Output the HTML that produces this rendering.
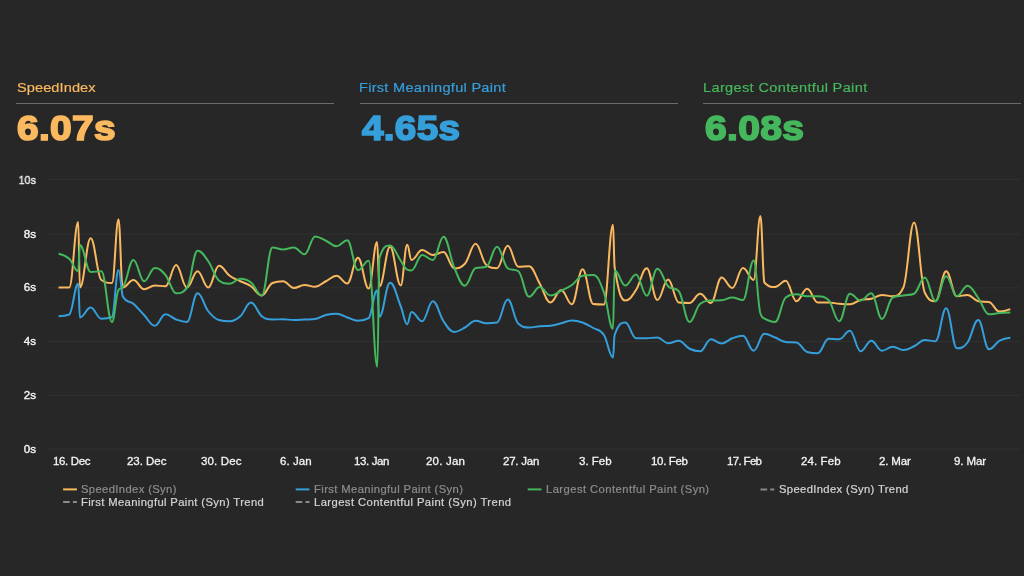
<!DOCTYPE html>
<html><head><meta charset="utf-8"><title>Chart</title>
<style>
html,body{margin:0;padding:0;}
body{width:1024px;height:576px;background:#272727;overflow:hidden;position:relative;font-family:"Liberation Sans",sans-serif;}
.t{position:absolute;white-space:nowrap;line-height:1;will-change:transform;transform-origin:0 0;}
.h{font-size:13.5px;top:80.7px;transform:scaleX(1.08);}
.v{font-size:35px;font-weight:bold;top:110.4px;}
.rule{position:absolute;height:1px;background:#6b6b6b;top:103px;width:318px;}
.yl{font-size:11px;color:#f4f4f4;text-align:right;width:40px;left:-4.1px;-webkit-text-stroke:0.35px #f4f4f4;transform-origin:100% 0;transform:scaleX(1.06);}
.xl{top:455.5px;font-size:11.5px;color:#f4f4f4;-webkit-text-stroke:0.3px #f4f4f4;}
.lg{font-size:10.5px;transform:scaleX(1.07);}
.l1{color:#8c8c8c;-webkit-text-stroke:0.2px #8c8c8c;}
.l2{color:#d4d4d4;-webkit-text-stroke:0.2px #d4d4d4;}
svg{position:absolute;left:0;top:0;}
</style></head><body>
<div class="t h" id="h1" style="left:16.9px;color:#fbb95f;-webkit-text-stroke:0.2px #fbb95f;letter-spacing:0.074px;">SpeedIndex</div>
<div class="rule" style="left:16px;"></div>
<div class="t h" id="h2" style="left:359.1px;color:#359fdb;-webkit-text-stroke:0.2px #359fdb;letter-spacing:0.251px;">First Meaningful Paint</div>
<div class="rule" style="left:360px;"></div>
<div class="t h" id="h3" style="left:703.0px;color:#45b75c;-webkit-text-stroke:0.2px #45b75c;letter-spacing:0.312px;">Largest Contentful Paint</div>
<div class="rule" style="left:703px;"></div>
<div class="t v" id="v1" style="left:16.9px;color:#fbb95f;letter-spacing:0.3px;transform-origin:0 0;transform:scaleX(1.1105);-webkit-text-stroke:1.7px #fbb95f;">6.07s</div>
<div class="t v" id="v2" style="left:361.8px;color:#359fdb;letter-spacing:0.3px;transform-origin:0 0;transform:scaleX(1.1033);-webkit-text-stroke:1.7px #359fdb;">4.65s</div>
<div class="t v" id="v3" style="left:704.98px;color:#45b75c;letter-spacing:0.3px;transform-origin:0 0;transform:scaleX(1.1157);-webkit-text-stroke:1.7px #45b75c;">6.08s</div>
<div class="t yl" id="y0" style="top:174.6px;transform:scaleX(0.98);">10s</div>
<div class="t yl" id="y1" style="top:228.5px;">8s</div>
<div class="t yl" id="y2" style="top:282.4px;">6s</div>
<div class="t yl" id="y3" style="top:336.3px;">4s</div>
<div class="t yl" id="y4" style="top:390.2px;">2s</div>
<div class="t yl" id="y5" style="top:444.1px;">0s</div>
<div class="t xl" id="x0" style="left:52.79px;letter-spacing:-0.37px;">16. Dec</div>
<div class="t xl" id="x1" style="left:126.61px;letter-spacing:-0.037px;">23. Dec</div>
<div class="t xl" id="x2" style="left:201.01px;letter-spacing:0.13px;">30. Dec</div>
<div class="t xl" id="x3" style="left:280.15px;letter-spacing:0.05px;">6. Jan</div>
<div class="t xl" id="x4" style="left:353.69px;letter-spacing:-0.376px;">13. Jan</div>
<div class="t xl" id="x5" style="left:426.26px;letter-spacing:0.208px;">20. Jan</div>
<div class="t xl" id="x6" style="left:502.92px;letter-spacing:-0.229px;">27. Jan</div>
<div class="t xl" id="x7" style="left:578.99px;letter-spacing:0.006px;">3. Feb</div>
<div class="t xl" id="x8" style="left:651.39px;letter-spacing:-0.332px;">10. Feb</div>
<div class="t xl" id="x9" style="left:727.29px;letter-spacing:-0.665px;">17. Feb</div>
<div class="t xl" id="x10" style="left:800.64px;letter-spacing:0.108px;">24. Feb</div>
<div class="t xl" id="x11" style="left:879.23px;letter-spacing:-0.174px;">2. Mar</div>
<div class="t xl" id="x12" style="left:953.68px;letter-spacing:-0.121px;">9. Mar</div>
<div class="t lg l1" id="g1" style="left:81.32px;top:484px;letter-spacing:0.343px;">SpeedIndex (Syn)</div>
<div class="t lg l1" id="g2" style="left:313.76px;top:484px;letter-spacing:0.359px;">First Meaningful Paint (Syn)</div>
<div class="t lg l1" id="g3" style="left:546.0px;top:484px;letter-spacing:0.406px;">Largest Contentful Paint (Syn)</div>
<div class="t lg l2" id="g4" style="left:779.26px;top:484px;letter-spacing:0.335px;">SpeedIndex (Syn) Trend</div>
<div class="t lg l2" id="g5" style="left:81.32px;top:496.7px;letter-spacing:0.348px;">First Meaningful Paint (Syn) Trend</div>
<div class="t lg l2" id="g6" style="left:313.76px;top:496.7px;letter-spacing:0.394px;">Largest Contentful Paint (Syn) Trend</div>
<svg width="1024" height="576" viewBox="0 0 1024 576">
<g stroke="#323232" stroke-width="1">
<line x1="48" y1="179.3" x2="1020" y2="179.3"/>
<line x1="48" y1="234.1" x2="1020" y2="234.1"/>
<line x1="48" y1="287.9" x2="1020" y2="287.9"/>
<line x1="48" y1="341.6" x2="1020" y2="341.6"/>
<line x1="48" y1="395.3" x2="1020" y2="395.3"/>
<line x1="48" y1="449.1" x2="1020" y2="449.1"/>
</g>
<g fill="none" stroke-width="2" stroke-linecap="butt" stroke-linejoin="round">
<path stroke="#fbb95f" d="M 58.55 287.50 C 58.55 287.50 64.97 287.50 69.24 287.50 C 72.83 287.50 74.62 222.00 78.20 222.00 C 78.90 222.00 79.24 287.50 79.94 287.50 C 84.22 287.50 86.35 238.25 90.63 238.25 C 94.91 238.25 97.05 277.00 101.33 280.00 C 105.60 283.00 107.74 283.00 112.02 283.00 C 114.61 283.00 115.91 219.25 118.50 219.25 C 120.19 219.25 121.03 287.50 122.71 287.50 C 126.99 287.50 129.13 280.00 133.41 280.00 C 137.69 280.00 139.82 289.25 144.10 289.25 C 148.38 289.25 150.52 285.50 154.80 285.50 C 159.07 285.50 161.21 286.25 165.49 286.25 C 169.77 286.25 171.91 265.00 176.18 265.00 C 180.46 265.00 182.60 287.50 186.88 287.50 C 191.16 287.50 193.29 271.25 197.57 271.25 C 201.85 271.25 203.99 287.50 208.27 287.50 C 212.54 287.50 214.68 265.75 218.96 265.75 C 223.24 265.75 225.38 272.65 229.65 275.75 C 233.93 278.85 236.07 279.15 240.35 281.25 C 244.63 283.35 246.76 283.40 251.04 286.25 C 255.32 289.10 257.46 295.50 261.74 295.50 C 266.01 295.50 268.15 284.75 272.43 283.00 C 276.71 281.25 278.85 281.25 283.12 281.25 C 287.40 281.25 289.54 288.00 293.82 288.00 C 298.10 288.00 300.23 285.00 304.51 285.00 C 308.79 285.00 310.93 286.75 315.21 286.75 C 319.48 286.75 321.62 283.45 325.90 281.25 C 330.18 279.05 332.32 275.75 336.59 275.75 C 340.87 275.75 343.01 283.50 347.29 283.50 C 351.57 283.50 353.70 257.70 357.98 257.70 C 362.26 257.70 364.40 288.50 368.68 288.50 C 372.05 288.50 373.73 242.00 377.10 242.00 C 378.01 242.00 378.46 286.40 379.37 286.40 C 383.65 286.40 385.79 246.80 390.06 246.80 C 394.34 246.80 396.48 285.40 400.76 285.40 C 403.33 285.40 404.62 244.75 407.20 244.75 C 408.90 244.75 409.75 260.00 411.45 260.00 C 415.73 260.00 417.87 250.00 422.15 250.00 C 426.42 250.00 428.56 255.00 432.84 255.00 C 437.12 255.00 439.26 252.00 443.53 252.00 C 447.81 252.00 449.95 268.25 454.23 268.25 C 458.51 268.25 460.64 268.25 464.92 263.75 C 469.20 259.25 471.34 243.75 475.62 243.75 C 479.89 243.75 482.03 261.75 486.31 265.00 C 490.59 268.25 492.73 268.25 497.00 268.25 C 501.28 268.25 503.42 245.75 507.70 245.75 C 511.98 245.75 514.11 266.75 518.39 266.75 C 522.67 266.75 524.81 266.25 529.09 266.25 C 533.36 266.25 535.50 276.50 539.78 283.75 C 544.06 291.00 546.20 302.50 550.47 302.50 C 554.75 302.50 556.89 290.00 561.17 290.00 C 565.45 290.00 567.58 304.25 571.86 304.25 C 576.14 304.25 578.28 269.25 582.56 269.25 C 586.83 269.25 588.97 303.50 593.25 304.00 C 597.53 304.50 599.67 304.50 603.94 304.50 C 607.57 304.50 609.38 224.75 613.00 224.75 C 613.66 224.75 613.98 263.48 614.64 267.50 C 618.92 293.78 621.05 300.50 625.33 300.50 C 629.61 300.50 631.75 296.45 636.03 290.00 C 640.30 283.55 642.44 268.25 646.72 268.25 C 651.00 268.25 653.14 300.00 657.41 300.00 C 661.69 300.00 663.83 279.50 668.11 279.50 C 672.39 279.50 674.52 302.00 678.80 302.50 C 683.08 303.00 685.22 303.00 689.50 303.00 C 693.77 303.00 695.91 293.75 700.19 293.75 C 704.47 293.75 706.61 303.00 710.88 303.00 C 715.16 303.00 717.30 277.50 721.58 277.50 C 725.86 277.50 727.99 288.00 732.27 288.00 C 736.55 288.00 738.69 268.10 742.97 268.10 C 747.24 268.10 749.38 280.00 753.66 280.00 C 756.36 280.00 757.70 216.00 760.40 216.00 C 761.98 216.00 762.77 278.00 764.35 282.50 C 768.63 287.00 770.77 287.00 775.05 287.00 C 779.33 287.00 781.46 280.75 785.74 280.75 C 790.02 280.75 792.16 301.25 796.44 301.25 C 800.71 301.25 802.85 288.75 807.13 288.75 C 811.41 288.75 813.55 302.50 817.82 302.50 C 822.10 302.50 824.24 302.50 828.52 302.50 C 832.80 302.50 834.93 303.40 839.21 303.75 C 843.49 304.10 845.63 304.25 849.91 304.25 C 854.18 304.25 856.32 301.10 860.60 300.00 C 864.88 298.90 867.02 299.75 871.29 298.75 C 875.57 297.75 877.71 295.00 881.99 295.00 C 886.27 295.00 888.40 296.25 892.68 296.25 C 896.96 296.25 899.10 296.25 903.38 287.50 C 907.65 278.75 909.79 222.50 914.07 222.50 C 918.35 222.50 920.49 283.75 924.76 292.50 C 929.04 301.25 931.18 301.25 935.46 301.25 C 939.74 301.25 941.87 271.25 946.15 271.25 C 950.43 271.25 952.57 296.25 956.85 296.25 C 961.12 296.25 963.26 295.00 967.54 295.00 C 971.82 295.00 973.96 300.50 978.23 301.25 C 982.51 302.00 984.65 301.25 988.93 302.00 C 993.21 302.75 995.34 311.60 999.62 311.60 C 1003.90 311.60 1010.32 309.10 1010.32 309.10"/>
<path stroke="#359fdb" d="M 58.55 316.25 C 58.55 316.25 64.97 316.25 69.24 314.50 C 72.83 312.75 74.62 283.75 78.20 283.75 C 78.90 283.75 79.24 317.50 79.94 317.50 C 84.22 317.50 86.35 307.50 90.63 307.50 C 94.91 307.50 97.05 318.75 101.33 318.75 C 105.60 318.75 107.74 318.75 112.02 317.00 C 114.61 315.25 115.91 270.00 118.50 270.00 C 120.19 270.00 121.03 288.75 122.71 296.25 C 126.99 303.75 129.13 300.00 133.41 303.75 C 137.69 307.50 139.82 310.60 144.10 315.00 C 148.38 319.40 150.52 325.75 154.80 325.75 C 159.07 325.75 161.21 314.25 165.49 314.25 C 169.77 314.25 171.91 317.95 176.18 319.50 C 180.46 321.05 182.60 322.00 186.88 322.00 C 191.16 322.00 193.29 293.25 197.57 293.25 C 201.85 293.25 203.99 305.90 208.27 311.25 C 212.54 316.60 214.68 318.75 218.96 320.00 C 223.24 321.25 225.38 321.25 229.65 321.25 C 233.93 321.25 236.07 320.00 240.35 316.25 C 244.63 312.50 246.76 302.50 251.04 302.50 C 255.32 302.50 257.46 313.00 261.74 316.25 C 266.01 319.50 268.15 319.50 272.43 319.50 C 276.71 319.50 278.85 319.25 283.12 319.25 C 287.40 319.25 289.54 320.00 293.82 320.00 C 298.10 320.00 300.23 319.70 304.51 319.50 C 308.79 319.30 310.93 319.50 315.21 319.00 C 319.48 318.50 321.62 316.05 325.90 315.00 C 330.18 313.95 332.32 313.75 336.59 313.75 C 340.87 313.75 343.01 316.11 347.29 317.50 C 351.57 318.89 353.70 320.70 357.98 320.70 C 362.26 320.70 364.40 320.70 368.68 318.20 C 372.05 315.70 373.73 290.20 377.10 290.20 C 378.01 290.20 378.46 316.80 379.37 316.80 C 383.65 316.80 385.79 282.70 390.06 282.70 C 394.34 282.70 396.48 295.89 400.76 306.25 C 403.33 312.49 404.62 324.20 407.20 324.20 C 408.90 324.20 409.75 312.00 411.45 312.00 C 415.73 312.00 417.87 321.30 422.15 321.30 C 426.42 321.30 428.56 301.25 432.84 301.25 C 437.12 301.25 439.26 315.10 443.53 321.25 C 447.81 327.40 449.95 332.00 454.23 332.00 C 458.51 332.00 460.64 329.75 464.92 327.50 C 469.20 325.25 471.34 320.75 475.62 320.75 C 479.89 320.75 482.03 323.25 486.31 323.25 C 490.59 323.25 492.73 323.25 497.00 322.50 C 501.28 321.75 503.42 299.50 507.70 299.50 C 511.98 299.50 514.11 320.00 518.39 323.75 C 522.67 327.50 524.81 327.50 529.09 327.50 C 533.36 327.50 535.50 326.60 539.78 326.25 C 544.06 325.90 546.20 326.25 550.47 325.75 C 554.75 325.25 556.89 324.30 561.17 323.25 C 565.45 322.20 567.58 320.50 571.86 320.50 C 576.14 320.50 578.28 321.00 582.56 322.50 C 586.83 324.00 588.97 325.50 593.25 328.00 C 597.53 330.50 599.67 328.61 603.94 335.00 C 607.57 340.41 609.38 357.50 613.00 357.50 C 613.66 357.50 613.98 336.86 614.64 335.00 C 618.92 322.86 621.05 322.50 625.33 322.50 C 629.61 322.50 631.75 338.25 636.03 338.25 C 640.30 338.25 642.44 338.25 646.72 338.25 C 651.00 338.25 653.14 337.50 657.41 337.50 C 661.69 337.50 663.83 343.25 668.11 343.25 C 672.39 343.25 674.52 340.75 678.80 340.75 C 683.08 340.75 685.22 346.65 689.50 348.75 C 693.77 350.85 695.91 351.25 700.19 351.25 C 704.47 351.25 706.61 339.25 710.88 339.25 C 715.16 339.25 717.30 343.50 721.58 343.50 C 725.86 343.50 727.99 339.80 732.27 338.25 C 736.55 336.70 738.69 335.75 742.97 335.75 C 747.24 335.75 749.38 350.75 753.66 350.75 C 757.94 350.75 760.08 333.75 764.35 333.75 C 768.63 333.75 770.77 335.85 775.05 337.50 C 779.33 339.15 781.46 341.50 785.74 342.00 C 790.02 342.50 792.16 342.00 796.44 342.50 C 800.71 343.00 802.85 350.75 807.13 352.00 C 811.41 353.25 813.55 353.25 817.82 353.25 C 822.10 353.25 824.24 338.75 828.52 338.75 C 832.80 338.75 834.93 339.25 839.21 339.25 C 843.49 339.25 845.63 330.75 849.91 330.75 C 854.18 330.75 856.32 351.25 860.60 351.25 C 864.88 351.25 867.02 340.75 871.29 340.75 C 875.57 340.75 877.71 350.75 881.99 350.75 C 886.27 350.75 888.40 346.75 892.68 346.75 C 896.96 346.75 899.10 350.00 903.38 350.00 C 907.65 350.00 909.79 348.25 914.07 346.25 C 918.35 344.25 920.49 340.00 924.76 340.00 C 929.04 340.00 931.18 341.25 935.46 341.25 C 939.74 341.25 941.87 308.25 946.15 308.25 C 950.43 308.25 952.57 348.25 956.85 348.25 C 961.12 348.25 963.26 348.15 967.54 342.50 C 971.82 336.85 973.96 320.00 978.23 320.00 C 982.51 320.00 984.65 349.25 988.93 349.25 C 993.21 349.25 995.34 342.99 999.62 340.70 C 1003.90 338.41 1010.32 337.80 1010.32 337.80"/>
<path stroke="#45b75c" d="M 58.55 253.75 C 58.55 253.75 64.97 254.94 69.24 258.75 C 72.83 261.94 74.62 271.25 78.20 271.25 C 78.90 271.25 79.24 245.00 79.94 245.00 C 84.22 245.00 86.35 272.00 90.63 272.00 C 94.91 272.00 97.05 271.25 101.33 271.25 C 105.60 271.25 107.74 322.00 112.02 322.00 C 114.61 322.00 115.91 293.00 118.50 290.00 C 120.19 287.00 121.03 290.00 122.71 287.00 C 126.99 284.00 129.13 260.00 133.41 260.00 C 137.69 260.00 139.82 281.25 144.10 281.25 C 148.38 281.25 150.52 268.00 154.80 268.00 C 159.07 268.00 161.21 269.95 165.49 275.00 C 169.77 280.05 171.91 293.25 176.18 293.25 C 180.46 293.25 182.60 293.25 186.88 288.00 C 191.16 282.75 193.29 250.75 197.57 250.75 C 201.85 250.75 203.99 255.30 208.27 261.25 C 212.54 267.20 214.68 277.25 218.96 280.50 C 223.24 283.75 225.38 283.75 229.65 283.75 C 233.93 283.75 236.07 278.75 240.35 278.75 C 244.63 278.75 246.76 279.15 251.04 282.50 C 255.32 285.85 257.46 295.50 261.74 295.50 C 266.01 295.50 268.15 247.50 272.43 247.50 C 276.71 247.50 278.85 249.50 283.12 249.50 C 287.40 249.50 289.54 247.50 293.82 247.50 C 298.10 247.50 300.23 254.25 304.51 254.25 C 308.79 254.25 310.93 236.50 315.21 236.50 C 319.48 236.50 321.62 238.80 325.90 240.75 C 330.18 242.70 332.32 246.25 336.59 246.25 C 340.87 246.25 343.01 240.30 347.29 240.30 C 351.57 240.30 353.70 270.20 357.98 270.20 C 362.26 270.20 364.40 260.70 368.68 260.70 C 372.13 260.70 373.85 366.80 377.30 366.80 C 378.13 366.80 378.54 270.60 379.37 258.00 C 383.65 245.40 385.79 245.40 390.06 245.40 C 394.34 245.40 396.48 254.71 400.76 260.75 C 403.33 264.39 404.62 268.80 407.20 269.60 C 408.90 270.40 409.75 270.40 411.45 270.40 C 415.73 270.40 417.87 255.00 422.15 255.00 C 426.42 255.00 428.56 260.00 432.84 260.00 C 437.12 260.00 439.26 236.75 443.53 236.75 C 447.81 236.75 449.95 257.70 454.23 267.50 C 458.51 277.30 460.64 285.75 464.92 285.75 C 469.20 285.75 471.34 269.25 475.62 268.00 C 479.89 266.75 482.03 268.00 486.31 266.75 C 490.59 265.50 492.73 246.75 497.00 246.75 C 501.28 246.75 503.42 265.25 507.70 268.25 C 511.98 271.25 514.11 268.25 518.39 271.25 C 522.67 274.25 524.81 296.75 529.09 296.75 C 533.36 296.75 535.50 287.00 539.78 287.00 C 544.06 287.00 546.20 295.50 550.47 295.50 C 554.75 295.50 556.89 292.85 561.17 290.75 C 565.45 288.65 567.58 288.00 571.86 285.00 C 576.14 282.00 578.28 276.50 582.56 275.75 C 586.83 275.00 588.97 275.00 593.25 275.00 C 597.53 275.00 599.67 280.86 603.94 292.50 C 607.57 302.36 609.38 328.75 613.00 328.75 C 613.66 328.75 613.98 270.60 614.64 270.60 C 618.92 270.60 621.05 285.60 625.33 285.60 C 629.61 285.60 631.75 274.40 636.03 274.40 C 640.30 274.40 642.44 295.75 646.72 295.75 C 651.00 295.75 653.14 268.75 657.41 268.75 C 661.69 268.75 663.83 281.75 668.11 286.25 C 672.39 290.75 674.52 286.25 678.80 291.25 C 683.08 296.25 685.22 322.00 689.50 322.00 C 693.77 322.00 695.91 307.00 700.19 303.75 C 704.47 300.50 706.61 300.75 710.88 300.50 C 715.16 300.25 717.30 300.50 721.58 300.25 C 725.86 300.00 727.99 297.50 732.27 297.50 C 736.55 297.50 738.69 300.00 742.97 300.00 C 747.24 300.00 749.38 260.60 753.66 260.60 C 756.52 260.60 757.94 310.50 760.80 314.50 C 762.22 318.50 762.93 317.75 764.35 318.50 C 768.63 320.75 770.77 322.00 775.05 322.00 C 779.33 322.00 781.46 300.75 785.74 297.50 C 790.02 294.25 792.16 294.25 796.44 294.25 C 800.71 294.25 802.85 296.25 807.13 296.25 C 811.41 296.25 813.55 296.25 817.82 296.25 C 822.10 296.25 824.24 296.25 828.52 300.00 C 832.80 303.75 834.93 321.25 839.21 321.25 C 843.49 321.25 845.63 293.75 849.91 293.75 C 854.18 293.75 856.32 300.60 860.60 300.60 C 864.88 300.60 867.02 293.25 871.29 293.25 C 875.57 293.25 877.71 318.90 881.99 318.90 C 886.27 318.90 888.40 299.50 892.68 297.50 C 896.96 295.50 899.10 296.25 903.38 295.50 C 907.65 294.75 909.79 295.50 914.07 293.75 C 918.35 292.00 920.49 277.50 924.76 277.50 C 929.04 277.50 931.18 301.25 935.46 301.25 C 939.74 301.25 941.87 276.25 946.15 276.25 C 950.43 276.25 952.57 296.25 956.85 296.25 C 961.12 296.25 963.26 285.75 967.54 285.75 C 971.82 285.75 973.96 292.29 978.23 298.00 C 982.51 303.71 984.65 314.30 988.93 314.30 C 993.21 314.30 995.34 313.34 999.62 313.00 C 1003.90 312.66 1010.32 312.60 1010.32 312.60"/>
</g>
<g fill="none" stroke-width="2">
<line x1="63.1" y1="489.4" x2="76.9" y2="489.4" stroke="#fbb95f"/>
<line x1="295.7" y1="489.4" x2="309.5" y2="489.4" stroke="#359fdb"/>
<line x1="527.7" y1="489.4" x2="541.5" y2="489.4" stroke="#45b75c"/>
<path d="M 760.5 489.4 h 6.6 m 3.2 0 h 4" stroke="#8a8a8a" stroke-width="2"/>
<path d="M 63.1 502 h 6.6 m 3.2 0 h 4" stroke="#8a8a8a" stroke-width="2"/>
<path d="M 295.7 502 h 6.6 m 3.2 0 h 4" stroke="#8a8a8a" stroke-width="2"/>
</g>
</svg>
</body></html>
